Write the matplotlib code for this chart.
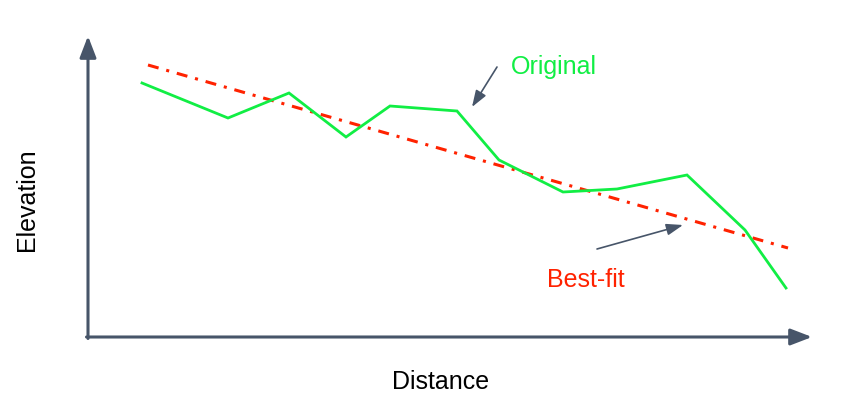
import matplotlib
matplotlib.use("Agg")
import matplotlib.pyplot as plt

# values (x = distance, y = elevation, arbitrary units)
distance = [54, 140, 201, 258, 302, 369, 411, 475, 529, 599, 657, 698]
elevation = [254, 219, 244, 200, 231, 226, 177, 145, 148, 162, 107, 49]
fit_distance = [60, 700]
fit_elevation = [272, 89]

slate = "#475569"
green = "#11ee44"
red = "#ff2200"

plt.rcParams['font.family'] = ['Liberation Sans', 'DejaVu Sans']

fig = plt.figure(figsize=(8.44, 4.10), dpi=100)
ax = fig.add_axes([0, 0, 1, 1])
ax.set_xlim(-88, 756)
ax.set_ylim(-72, 338)
ax.axis('off')

# axes with arrows
ax.annotate('', xy=(0, 301), xytext=(0, -1.5),
            arrowprops=dict(arrowstyle='-|>,head_length=1.3,head_width=0.5',
                            mutation_scale=10, color=slate, lw=2.2,
                            shrinkA=0, shrinkB=0))
ax.annotate('', xy=(724, 0), xytext=(-1.5, 0),
            arrowprops=dict(arrowstyle='-|>,head_length=1.3,head_width=0.5',
                            mutation_scale=10, color=slate, lw=2.2,
                            shrinkA=0, shrinkB=0))

ax.plot(fit_distance, fit_elevation, color=red, lw=2.2,
        dashes=(3.6, 2.6, 1.0, 2.6))
ax.plot(distance, elevation, color=green, lw=2.0, solid_joinstyle='miter')

ax.annotate('', xy=(384, 230), xytext=(409, 270),
            arrowprops=dict(arrowstyle='-|>,head_length=1.0,head_width=0.35',
                            mutation_scale=10, color=slate, lw=1.2,
                            shrinkA=0, shrinkB=0))
ax.annotate('', xy=(595, 112), xytext=(509, 88),
            arrowprops=dict(arrowstyle='-|>,head_length=1.0,head_width=0.35',
                            mutation_scale=10, color=slate, lw=1.2,
                            shrinkA=0, shrinkB=0))

ax.text(423, 271, 'Original', color=green, fontsize=18, va='center', ha='left')
ax.text(459, 58, 'Best-fit', color=red, fontsize=18, va='center', ha='left')

ax.text(353, -44, 'Distance', color='black', fontsize=18, ha='center', va='center')
ax.text(-61, 138, 'Elevation', color='black', fontsize=18, ha='center', va='center',
        rotation=90)

fig.savefig('out.png', dpi=100)
